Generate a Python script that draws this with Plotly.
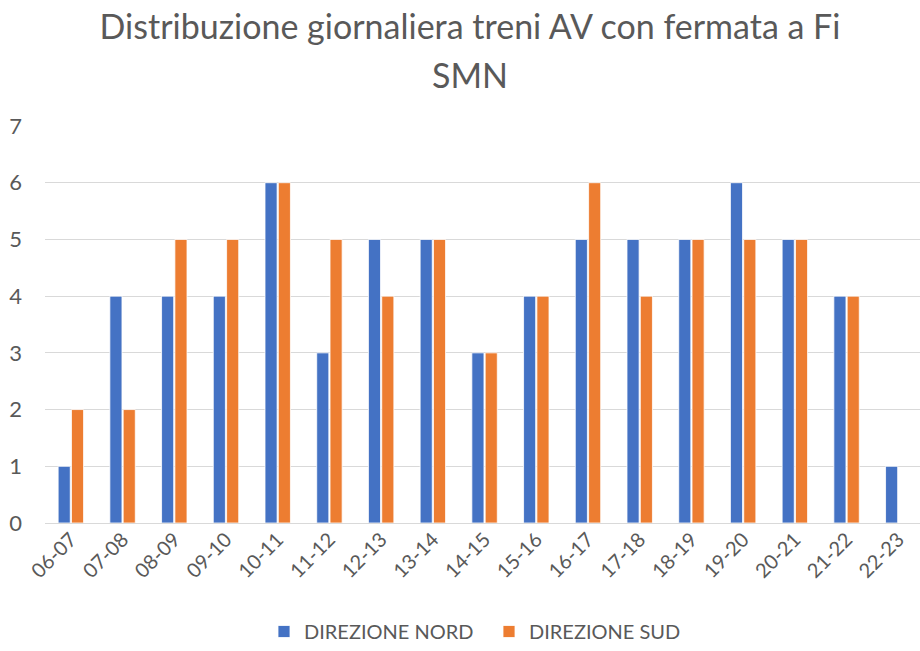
import plotly.graph_objects as go

# Fasce orarie e numero di treni AV per direzione
fasce = ["06-07", "07-08", "08-09", "09-10", "10-11", "11-12", "12-13", "13-14",
         "14-15", "15-16", "16-17", "17-18", "18-19", "19-20", "20-21", "21-22", "22-23"]
nord = [1, 4, 4, 4, 6, 3, 5, 5, 3, 4, 5, 5, 5, 6, 5, 4, 1]
sud = [2, 2, 5, 5, 6, 5, 4, 5, 3, 4, 6, 4, 5, 5, 5, 4, None]

titolo_1 = "Distribuzione giornaliera treni AV con fermata a Fi"
titolo_2 = "SMN"

BLU = "#4472C4"
ARANCIO = "#ED7D31"
GRIGIO = "#595959"
FONT = "Lato"

L, R, T, B = 45, 0, 126, 124
W, H = 920, 651
plot_w = W - L - R
plot_h = H - T - B

fig = go.Figure()
fig.add_trace(go.Bar(x=fasce, y=nord, name="DIREZIONE NORD",
                     marker=dict(color=BLU, line=dict(color="#FFFFFF", width=0.8))))
fig.add_trace(go.Bar(x=fasce, y=sud, name="DIREZIONE SUD",
                     marker=dict(color=ARANCIO, line=dict(color="#FFFFFF", width=0.8))))

# seconda riga del titolo, con interlinea più ampia
fig.add_annotation(text=titolo_2, xref="paper", yref="paper",
                   x=(470 - L) / plot_w, y=1 + 52 / plot_h,
                   xanchor="center", yanchor="middle", showarrow=False,
                   font=dict(family=FONT, size=34, color=GRIGIO))

fig.update_layout(
    width=W, height=H,
    margin=dict(l=L, r=R, t=T, b=B),
    paper_bgcolor="white", plot_bgcolor="white",
    barmode="group", bargap=0.485, bargroupgap=0.09,
    title=dict(text=titolo_1, x=470 / W, xanchor="center",
               y=1 - 27 / H, yanchor="middle",
               font=dict(family=FONT, size=34, color=GRIGIO)),
    font=dict(family=FONT, color=GRIGIO),
    legend=dict(orientation="h", x=(264 - L) / plot_w, xanchor="left",
                y=-(637 - (H - B)) / plot_h, yanchor="middle",
                font=dict(family=FONT, size=20, color=GRIGIO),
                itemwidth=30, entrywidth=180, traceorder="normal"),
    xaxis=dict(type="category", range=[-0.5, 16.42], tickangle=-45,
               tickfont=dict(size=20, color=GRIGIO),
               showgrid=False, showline=False, ticks="", ticklen=0),
    yaxis=dict(range=[0, 7], dtick=1, tickfont=dict(size=22, color=GRIGIO),
               showgrid=True, gridcolor="#D9D9D9", gridwidth=1.3,
               zeroline=True, zerolinecolor="#D9D9D9", zerolinewidth=1.3,
               showline=False, ticks="", ticklabelstandoff=22),
)

fig.write_html("out.html")
